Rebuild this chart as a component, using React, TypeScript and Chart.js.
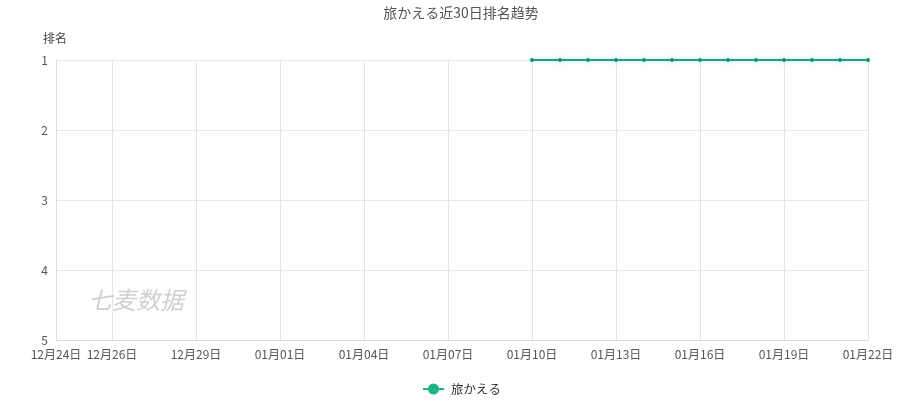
import React, { useEffect, useRef } from "react";
import { Chart, registerables } from "chart.js";

Chart.register(...registerables);

const categories = [
  "12月24日", "12月25日", "12月26日", "12月27日", "12月28日", "12月29日", "12月30日", "12月31日",
  "01月01日", "01月02日", "01月03日", "01月04日", "01月05日", "01月06日", "01月07日", "01月08日",
  "01月09日", "01月10日", "01月11日", "01月12日", "01月13日", "01月14日", "01月15日", "01月16日",
  "01月17日", "01月18日", "01月19日", "01月20日", "01月21日", "01月22日",
];
const rankValues: (number | null)[] = [
  null, null, null, null, null, null, null, null, null, null, null, null, null, null, null, null, null,
  1, 1, 1, 1, 1, 1, 1, 1, 1, 1, 1, 1, 1,
];
const seriesName = "旅かえる";
const chartTitle = "旅かえる近30日排名趋势";
const yAxisName = "排名";
const watermark = "七麦数据";

const FONT = "'Noto Sans CJK SC', 'Noto Sans', sans-serif";
const LINE_COLOR = "#2e977e";
const LEGEND_COLOR = "#1bb383";

const isShown = (i: number) => i === 0 || (categories.length - 1 - i) % 3 === 0;

const decorPlugin = {
  id: "decor",
  beforeDatasetsDraw(chart: any) {
    const ctx = chart.ctx;
    ctx.save();
    ctx.font = `italic 24px ${FONT}`;
    ctx.fillStyle = "rgba(200,200,200,0.85)";
    ctx.textAlign = "center";
    ctx.textBaseline = "middle";
    ctx.fillText(watermark, 136, 300);
    ctx.restore();
  },
  beforeDatasetDraw(chart: any) {
    const ctx = chart.ctx;
    ctx.save();
    ctx.shadowColor = "rgba(90,255,235,0.6)";
    ctx.shadowBlur = 5;
  },
  afterDatasetDraw(chart: any) {
    chart.ctx.restore();
  },
  afterDraw(chart: any) {
    const ctx = chart.ctx;
    ctx.save();
    // title
    ctx.font = `14px ${FONT}`;
    ctx.fillStyle = "#555";
    ctx.textAlign = "center";
    ctx.textBaseline = "middle";
    ctx.fillText(chartTitle, 461, 13);
    // y axis name
    ctx.font = `12px ${FONT}`;
    ctx.fillStyle = "#444";
    ctx.textAlign = "left";
    ctx.fillText(yAxisName, 43, 38);
    // legend
    const ly = 389;
    ctx.strokeStyle = LEGEND_COLOR;
    ctx.lineWidth = 2;
    ctx.beginPath();
    ctx.moveTo(423, ly);
    ctx.lineTo(444, ly);
    ctx.stroke();
    ctx.fillStyle = LEGEND_COLOR;
    ctx.beginPath();
    ctx.arc(433.5, ly, 5.5, 0, Math.PI * 2);
    ctx.fill();
    ctx.fillStyle = "#333";
    ctx.font = `12.5px ${FONT}`;
    ctx.textAlign = "left";
    ctx.fillText(seriesName, 451, ly);
    ctx.restore();
  },
};

export default function App() {
  const ref = useRef<HTMLCanvasElement | null>(null);
  useEffect(() => {
    document.body.style.margin = "0";
    const canvas = ref.current!;
    const chart = new Chart(canvas, {
      type: "line",
      data: {
        labels: categories,
        datasets: [
          {
            label: seriesName,
            data: rankValues,
            borderColor: LINE_COLOR,
            backgroundColor: LINE_COLOR,
            borderWidth: 2,
            pointRadius: 2,
            pointBackgroundColor: "#2a8a72",
            pointBorderWidth: 0,
            tension: 0,
            spanGaps: false,
            clip: false,
          },
        ],
      },
      options: {
        responsive: false,
        animation: false,
        layout: { padding: { left: 0, right: 55, top: 60, bottom: 0 } },
        plugins: {
          legend: { display: false },
          title: { display: false },
          tooltip: { enabled: false },
        },
        scales: {
          x: {
            type: "category",
            offset: false,
            afterFit: (s: any) => {
              s.height = 60;
            },
            grid: {
              drawTicks: false,
              color: (c: any) => (c.index !== undefined && isShown(c.index) ? "#e4e4e4" : "rgba(0,0,0,0)"),
            },
            border: { display: true, color: "#dcdcdc" },
            ticks: {
              autoSkip: false,
              maxRotation: 0,
              padding: 7,
              color: "#555",
              font: { size: 12, family: FONT },
              callback: (_v: any, i: number) => (isShown(i) ? categories[i] : ""),
            },
          },
          y: {
            reverse: true,
            min: 1,
            max: 5,
            afterFit: (s: any) => {
              s.width = 56;
            },
            grid: { drawTicks: false, color: "#e8e8e8" },
            border: { display: true, color: "#dcdcdc" },
            ticks: {
              stepSize: 1,
              padding: 8,
              color: "#555",
              font: { size: 12, family: FONT },
            },
          },
        },
      },
      plugins: [decorPlugin],
    } as any);
    return () => chart.destroy();
  }, []);
  return <canvas ref={ref} width={923} height={400} style={{ display: "block" }} />;
}
